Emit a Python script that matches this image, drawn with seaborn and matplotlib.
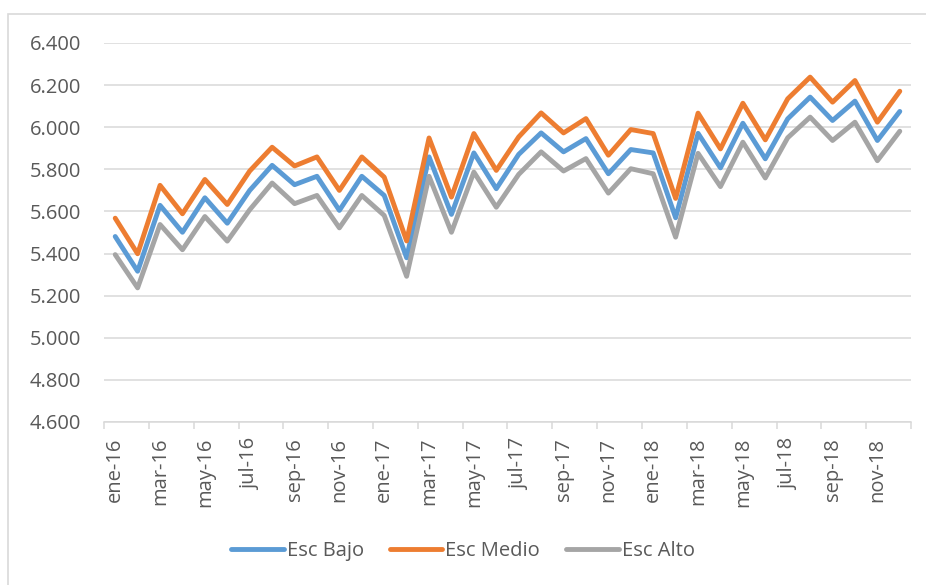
import matplotlib
matplotlib.use("Agg")
import matplotlib.pyplot as plt
from matplotlib.patches import Rectangle
import seaborn as sns
import pandas as pd

months = ["ene", "feb", "mar", "abr", "may", "jun", "jul", "ago", "sep", "oct", "nov", "dic"]
categories = [f"{m}-{y}" for y in ["16", "17", "18"] for m in months]

esc_bajo = [5481, 5316, 5629, 5501, 5665, 5544, 5700, 5819, 5727, 5767, 5605, 5767,
            5676, 5380, 5859, 5586, 5878, 5708, 5871, 5973, 5883, 5946, 5779, 5894,
            5878, 5570, 5971, 5807, 6019, 5850, 6040, 6143, 6032, 6124, 5937, 6075]
esc_medio = [5568, 5399, 5724, 5589, 5752, 5633, 5792, 5905, 5816, 5859, 5700, 5859,
             5763, 5460, 5949, 5668, 5970, 5795, 5954, 6068, 5973, 6041, 5867, 5989,
             5970, 5662, 6067, 5897, 6114, 5940, 6135, 6238, 6119, 6222, 6024, 6171]
esc_alto = [5395, 5237, 5538, 5418, 5576, 5459, 5608, 5735, 5637, 5676, 5522, 5676,
            5581, 5292, 5767, 5501, 5787, 5620, 5776, 5883, 5792, 5851, 5687, 5803,
            5779, 5478, 5876, 5718, 5929, 5759, 5950, 6048, 5937, 6024, 5841, 5981]

series_names = ["Esc Bajo", "Esc Medio", "Esc Alto"]
y_ticks = [4600, 4800, 5000, 5200, 5400, 5600, 5800, 6000, 6200, 6400]
y_tick_labels = ["4.600", "4.800", "5.000", "5.200", "5.400", "5.600", "5.800", "6.000", "6.200", "6.400"]

df = pd.DataFrame({
    "mes": categories * 3,
    "valor": esc_bajo + esc_medio + esc_alto,
    "serie": [series_names[0]] * 36 + [series_names[1]] * 36 + [series_names[2]] * 36,
})

sns.set_theme(style="white")
plt.rcParams["font.family"] = ["Open Sans", "DejaVu Sans"]

TXT = "#595959"
GRID = "#d9d9d9"
FS = 14.5

fig = plt.figure(figsize=(9.26, 5.85), dpi=100)
ax = fig.add_axes([104 / 926, 1 - 422 / 585, (911 - 104) / 926, (422 - 43) / 585])

sns.lineplot(data=df, x="mes", y="valor", hue="serie", hue_order=series_names,
             palette=["#5B9BD5", "#ED7D31", "#A5A5A5"], linewidth=3.5, ax=ax,
             sort=False, solid_capstyle="round", solid_joinstyle="round")

ax.set_xlim(-0.5, 35.5)
ax.set_ylim(4600, 6400)
ax.set_yticks(y_ticks)
ax.set_yticklabels(y_tick_labels)
ax.set_xticks(range(0, 36, 2))
ax.set_xticklabels(categories[0::2], rotation=90)
ax.set_xticks([x - 0.5 for x in range(0, 37, 2)], minor=True)
ax.tick_params(axis="x", which="major", length=0, pad=11.5, labelsize=FS, labelcolor=TXT)
ax.tick_params(axis="x", which="minor", length=5, width=1.1, color=GRID, direction="out", bottom=True)
ax.tick_params(axis="y", length=0, pad=16.5, labelsize=FS, labelcolor=TXT)
ax.grid(axis="y", color=GRID, linewidth=1.1)
ax.set_axisbelow(True)
for s in ["top", "right", "left"]:
    ax.spines[s].set_visible(False)
ax.spines["bottom"].set_color(GRID)
ax.spines["bottom"].set_linewidth(1.1)
ax.set_xlabel("")
ax.set_ylabel("")

ax.legend_.remove()
handles, labels = ax.get_legend_handles_labels()
fig.legend(handles, labels, loc="center", bbox_to_anchor=(0.5, 1 - 551 / 585), ncol=3,
           frameon=False, fontsize=FS, labelcolor=TXT, handlelength=2.6,
           handletextpad=0.15, columnspacing=1.3)

fig.patches.append(Rectangle((8 / 926, -0.1), 1.2, 1.1 - 14 / 585, transform=fig.transFigure,
                             fill=False, edgecolor=GRID, linewidth=1.2))

fig.savefig("out.png", dpi=100)
